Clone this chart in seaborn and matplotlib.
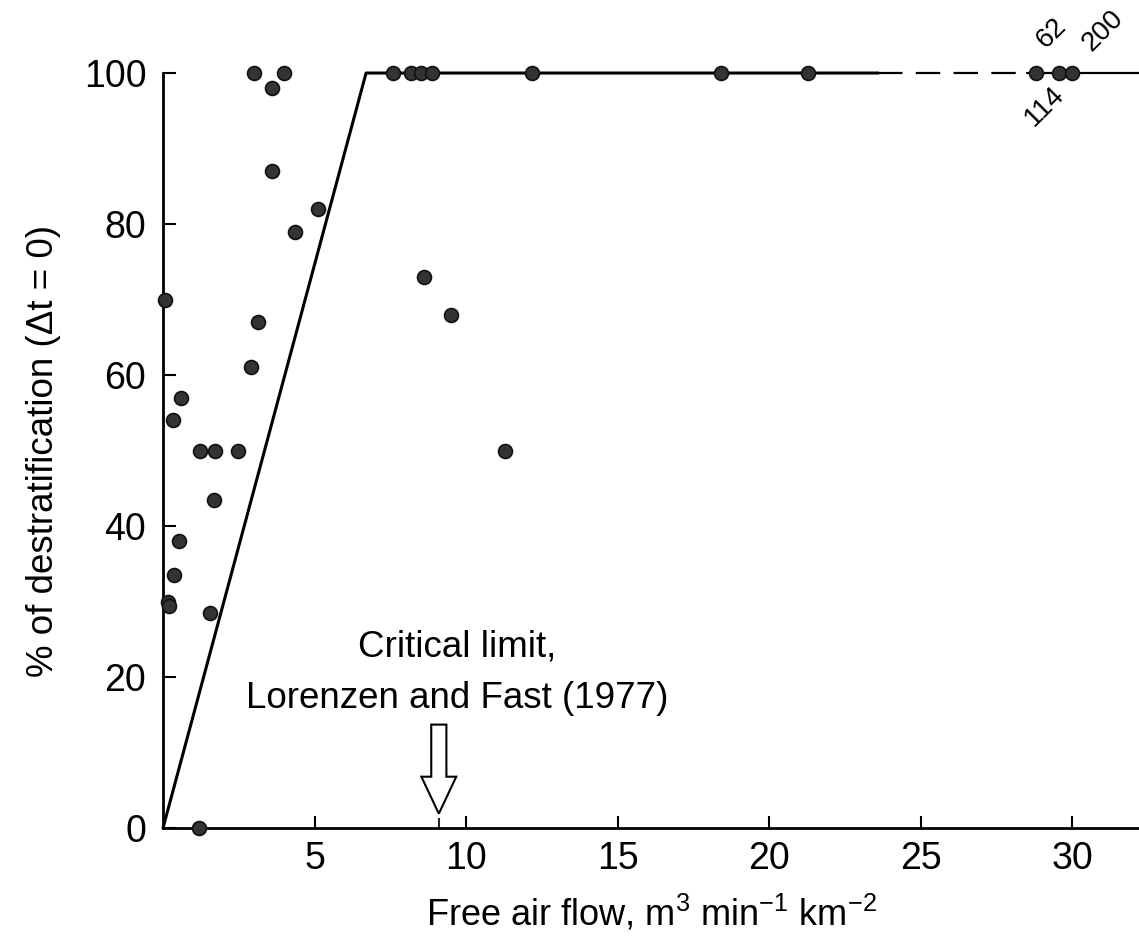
import matplotlib
matplotlib.use('Agg')
import matplotlib.pyplot as plt
from matplotlib.patches import FancyArrow
import pandas as pd
import seaborn as sns

# observed points: free air flow vs % destratification
flow = [0.07, 0.16, 0.21, 0.32, 0.36, 0.54, 0.61, 1.19, 1.22, 1.55, 1.68, 1.71,
        2.48, 2.90, 3.00, 3.13, 3.58, 3.60, 3.98, 4.37, 5.11,
        7.60, 8.18, 8.50, 8.62, 8.87, 9.50, 11.28, 12.18, 18.42, 21.28,
        28.80, 29.56, 30.00]
destrat = [70, 30, 29.4, 54, 33.5, 38, 57, 0, 50, 28.5, 43.5, 50,
           50, 61, 100, 67, 98, 87, 100, 79, 82,
           100, 100, 100, 73, 100, 68, 50, 100, 100, 100,
           100, 100, 100]

# fitted relation (solid / dashed break / solid)
fit_x = [0, 6.7, 23.6]
fit_y = [0, 100, 100]
gap_x = [23.6, 28.5]
gap_y = [100, 100]
tail_x = [28.5, 32.3]
tail_y = [100, 100]

big_labels = ['62', '114', '200']
big_label_x = [29.3, 29.1, 31.0]
big_label_y = [105.3, 95.6, 105.6]

critical_limit = 9.1

sns.set_style('ticks')
plt.rcParams['font.family'] = ['Liberation Sans', 'DejaVu Sans']
plt.rcParams['mathtext.fontset'] = 'custom'
plt.rcParams['mathtext.rm'] = 'Liberation Sans'
plt.rcParams['text.color'] = 'black'
plt.rcParams['axes.labelcolor'] = 'black'

fig = plt.figure(figsize=(11.39, 9.46), dpi=100)
ax = fig.add_axes([0.1431, 0.1247, 0.8569, 0.7981])

df = pd.DataFrame({'flow': flow, 'destrat': destrat})
sns.lineplot(x=fit_x, y=fit_y, sort=False, color='black', lw=2.2, ax=ax)
sns.lineplot(x=gap_x, y=gap_y, sort=False, color='black', lw=1.6, ax=ax,
             dashes=False).lines[-1].set_dashes([11, 6])
sns.lineplot(x=tail_x, y=tail_y, sort=False, color='black', lw=1.6, ax=ax)
sns.scatterplot(data=df, x='flow', y='destrat', s=100, color='#333333',
                edgecolor='#111111', linewidth=1.2, ax=ax, zorder=5)

for artist in ax.lines + ax.collections:
    artist.set_clip_on(False)

for lab, lx, ly in zip(big_labels, big_label_x, big_label_y):
    ax.text(lx, ly, lab, rotation=45, ha='center', va='center', fontsize=20)

ax.text(9.7, 24, 'Critical limit,', ha='center', va='center', fontsize=26.5)
ax.text(9.7, 17.1, 'Lorenzen and Fast (1977)', ha='center', va='center', fontsize=26.5)
ax.add_patch(FancyArrow(critical_limit, 13.7, 0, -11.8, width=0.5, head_width=1.15,
                        head_length=4.9, length_includes_head=True,
                        fc='white', ec='black', lw=1.5, zorder=6))

ax.set_xlim(0, 32.2)
ax.set_ylim(0, 100)
ax.set_xticks([5, 10, 15, 20, 25, 30])
ax.set_xticks([critical_limit], minor=True)
ax.set_yticks([0, 20, 40, 60, 80, 100])
ax.tick_params(axis='both', which='major', direction='in', length=9, width=1.5,
               labelsize=27, colors='black')
ax.tick_params(axis='x', which='minor', direction='in', length=7, width=1.5)
ax.tick_params(axis='y', pad=12)
ax.tick_params(axis='x', pad=9)

sns.despine(ax=ax)
for side in ['left', 'bottom']:
    ax.spines[side].set_linewidth(2)
    ax.spines[side].set_color('black')

ax.set_xlabel('Free air flow, m$^3$ min$^{-1}$ km$^{-2}$', fontsize=26, labelpad=12)
ax.set_ylabel('% of destratification (\u0394t = 0)', fontsize=26.5, labelpad=16)

fig.savefig('out.png', dpi=100)
